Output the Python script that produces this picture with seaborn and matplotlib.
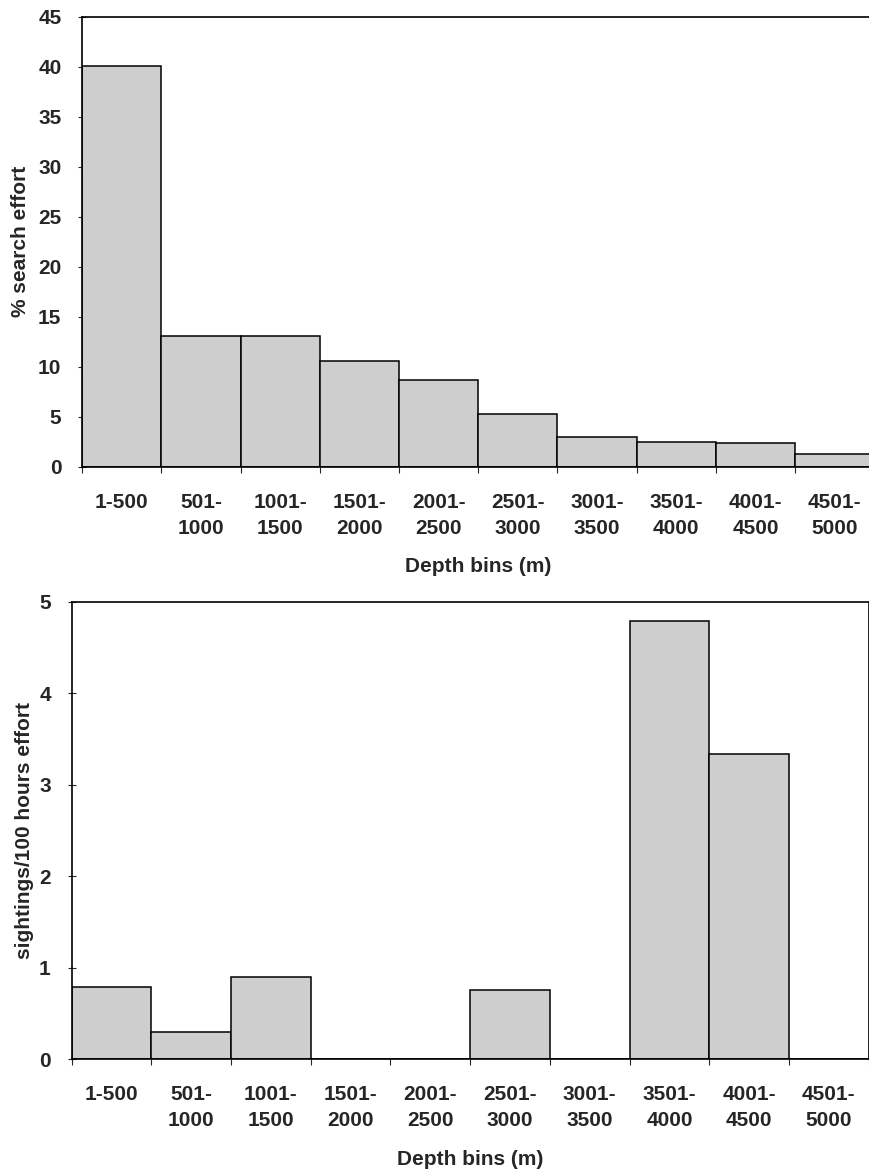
import numpy as np
import pandas as pd
import matplotlib
matplotlib.use("Agg")
import matplotlib.pyplot as plt
import seaborn as sns

# depth bins and values
depth_bins = ["1-500", "501-\n1000", "1001-\n1500", "1501-\n2000", "2001-\n2500",
              "2501-\n3000", "3001-\n3500", "3501-\n4000", "4001-\n4500", "4501-\n5000"]
search_effort = [40.1, 13.1, 13.1, 10.6, 8.7, 5.25, 3.0, 2.45, 2.4, 1.25]
sightings_rate = [0.79, 0.30, 0.90, 0.0, 0.0, 0.75, 0.0, 4.79, 3.33, 0.0]

sns.set_style("ticks")
plt.rcParams["font.family"] = ["Liberation Sans", "DejaVu Sans"]
plt.rcParams["font.weight"] = "bold"

fig = plt.figure(figsize=(8.69, 11.72), dpi=100)
ax_top = fig.add_axes([0.0947, 0.6018, 0.9114, 0.3837])
ax_bot = fig.add_axes([0.0825, 0.0964, 0.9171, 0.3902])

df = pd.DataFrame({"bin": depth_bins, "effort": search_effort, "rate": sightings_rate})
FS = 15


def style_axis(ax, ymax, ystep, ylabel, xlabelpad, ylabelpad):
    ax.set_xlim(-0.5, len(depth_bins) - 0.5)
    ax.set_ylim(0, ymax)
    ax.set_yticks(np.arange(0, ymax + 0.01, ystep))
    ax.set_xticks(range(len(depth_bins)))
    ax.set_xticklabels(depth_bins, fontsize=FS, fontweight="bold", linespacing=1.45)
    ax.set_xticks(np.arange(-0.5, len(depth_bins)), minor=True)
    ax.tick_params(axis="x", which="major", length=0, pad=19)
    ax.tick_params(axis="x", which="minor", length=4, direction="out", width=0.8)
    ax.tick_params(axis="y", length=6, direction="inout", width=0.8, labelsize=FS, pad=12)
    for lab in ax.get_yticklabels():
        lab.set_fontweight("bold")
    ax.set_xlabel("Depth bins (m)", fontsize=FS, fontweight="bold", labelpad=xlabelpad)
    ax.set_ylabel(ylabel, fontsize=FS, fontweight="bold", labelpad=ylabelpad)
    for side in ["top", "right", "left", "bottom"]:
        ax.spines[side].set_visible(True)
        ax.spines[side].set_linewidth(1.2)
        ax.spines[side].set_color("black")


sns.barplot(data=df, x="bin", y="effort", ax=ax_top, color="#cecece", saturation=1,
            width=1.0, edgecolor="black", linewidth=1.1)
style_axis(ax_top, 45, 5, "% search effort", 14, 6)

sns.barplot(data=df, x="bin", y="rate", ax=ax_bot, color="#cecece", saturation=1,
            width=1.0, edgecolor="black", linewidth=1.1)
style_axis(ax_bot, 5, 1, "sightings/100 hours effort", 14, 4)

fig.savefig("out.png", dpi=100)
